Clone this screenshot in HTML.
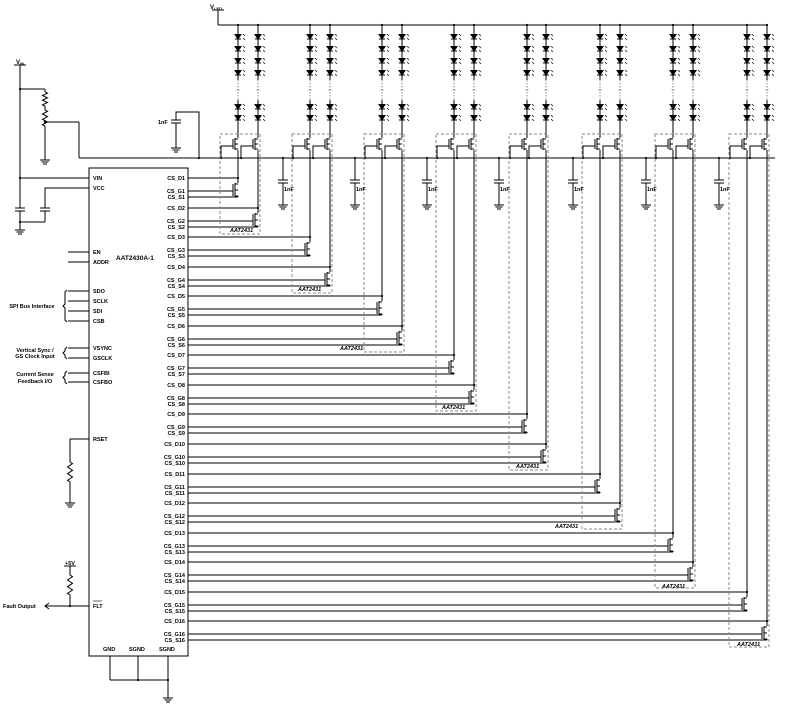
<!DOCTYPE html>
<html><head><meta charset="utf-8"><style>
html,body{margin:0;padding:0;background:#fff;}
svg{display:block}
text{font-family:"Liberation Sans",sans-serif;font-weight:bold;font-size:5.5px;fill:#000}
.r{text-anchor:end}
.m{text-anchor:middle}
.it{font-style:italic}
</style></head><body>
<svg id="s" width="786" height="710" viewBox="0 0 786 710" xmlns="http://www.w3.org/2000/svg">
<g id="g" stroke="#000" stroke-width="1" fill="none"></g>
<rect x="89" y="168" width="99" height="488" fill="none" stroke="#000" stroke-width="1"/>
<text x="116" y="260" style="font-size:6.5px">AAT2430A-1</text>
<text x="93" y="180">VIN</text>
<text x="93" y="190">VCC</text>
<text x="93" y="254">EN</text>
<text x="93" y="264">ADDR</text>
<text x="93" y="293">SDO</text>
<text x="93" y="303">SCLK</text>
<text x="93" y="313">SDI</text>
<text x="93" y="323">CSB</text>
<text x="93" y="350">VSYNC</text>
<text x="93" y="360">GSCLK</text>
<text x="93" y="375">CSFBI</text>
<text x="93" y="384">CSFBO</text>
<text x="93" y="441">RSET</text>
<text x="93" y="608">FLT</text>
<line x1="93" y1="601" x2="102" y2="601" stroke="#000" stroke-width="0.6"/>
<text x="103" y="651">GND</text>
<text x="129" y="651">SGND</text>
<text x="159" y="651">SGND</text>
<text x="32" y="308" class="m">SPI Bus Interface</text>
<text x="35" y="352" class="m">Vertical Sync /</text>
<text x="35" y="358" class="m">GS Clock Input</text>
<text x="35" y="376" class="m">Current Sense</text>
<text x="35" y="383" class="m">Feedback I/O</text>
<text x="3" y="608">Fault Output</text>
<text x="65" y="565">+5V</text>
<text x="16" y="64" style="font-size:6px">V<tspan style="font-size:4px" dy="1">IN</tspan></text>
<text x="210" y="9" style="font-size:6px">V<tspan style="font-size:4px" dy="1">LED</tspan></text>
<text x="158" y="124">1nF</text>
<text x="284" y="191">1nF</text><text x="356" y="191">1nF</text><text x="428" y="191">1nF</text><text x="500" y="191">1nF</text><text x="574" y="191">1nF</text><text x="647" y="191">1nF</text><text x="720" y="191">1nF</text>
<text x="230" y="232" class="it">AAT2431</text>
<text x="298" y="291" class="it">AAT2431</text>
<text x="340" y="350" class="it">AAT2431</text>
<text x="442" y="409" class="it">AAT2431</text>
<text x="516" y="468" class="it">AAT2431</text>
<text x="555" y="528" class="it">AAT2431</text>
<text x="662" y="588" class="it">AAT2431</text>
<text x="737" y="646" class="it">AAT2431</text>
<g>
<text x="185" y="180" class="r">CS_D1</text><text x="185" y="193" class="r">CS_G1</text><text x="185" y="199" class="r">CS_S1</text>
<text x="185" y="210" class="r">CS_D2</text><text x="185" y="223" class="r">CS_G2</text><text x="185" y="229" class="r">CS_S2</text>
<text x="185" y="239" class="r">CS_D3</text><text x="185" y="252" class="r">CS_G3</text><text x="185" y="258" class="r">CS_S3</text>
<text x="185" y="269" class="r">CS_D4</text><text x="185" y="282" class="r">CS_G4</text><text x="185" y="288" class="r">CS_S4</text>
<text x="185" y="298" class="r">CS_D5</text><text x="185" y="311" class="r">CS_G5</text><text x="185" y="317" class="r">CS_S5</text>
<text x="185" y="328" class="r">CS_D6</text><text x="185" y="341" class="r">CS_G6</text><text x="185" y="347" class="r">CS_S6</text>
<text x="185" y="357" class="r">CS_D7</text><text x="185" y="370" class="r">CS_G7</text><text x="185" y="376" class="r">CS_S7</text>
<text x="185" y="387" class="r">CS_D8</text><text x="185" y="400" class="r">CS_G8</text><text x="185" y="406" class="r">CS_S8</text>
<text x="185" y="416" class="r">CS_D9</text><text x="185" y="429" class="r">CS_G9</text><text x="185" y="435" class="r">CS_S9</text>
<text x="185" y="446" class="r">CS_D10</text><text x="185" y="459" class="r">CS_G10</text><text x="185" y="465" class="r">CS_S10</text>
<text x="185" y="476" class="r">CS_D11</text><text x="185" y="489" class="r">CS_G11</text><text x="185" y="495" class="r">CS_S11</text>
<text x="185" y="505" class="r">CS_D12</text><text x="185" y="518" class="r">CS_G12</text><text x="185" y="524" class="r">CS_S12</text>
<text x="185" y="535" class="r">CS_D13</text><text x="185" y="548" class="r">CS_G13</text><text x="185" y="554" class="r">CS_S13</text>
<text x="185" y="564" class="r">CS_D14</text><text x="185" y="577" class="r">CS_G14</text><text x="185" y="583" class="r">CS_S14</text>
<text x="185" y="594" class="r">CS_D15</text><text x="185" y="607" class="r">CS_G15</text><text x="185" y="613" class="r">CS_S15</text>
<text x="185" y="623" class="r">CS_D16</text><text x="185" y="636" class="r">CS_G16</text><text x="185" y="642" class="r">CS_S16</text>
</g>
</svg>
<script>
var g=document.getElementById('g'),NS='http://www.w3.org/2000/svg';
function el(t,a){var e=document.createElementNS(NS,t);for(var k in a)e.setAttribute(k,a[k]);g.appendChild(e);return e;}
function L(x1,y1,x2,y2,st){var e=el('line',{x1:x1,y1:y1,x2:x2,y2:y2});if(st)e.setAttribute('style',st);return e;}
function P(pts,st){var e=el('polyline',{points:pts});if(st)e.setAttribute('style',st);}
function dot(x,y){el('circle',{cx:x,cy:y,r:1.1,fill:'#000',stroke:'none'});}
function gnd(x,y){L(x-5,y,x+5,y);L(x-3.5,y+2,x+3.5,y+2);L(x-2,y+4,x+2,y+4);}
function cap(x,y){L(x-5,y,x+5,y);L(x-5,y+3,x+5,y+3);}
function res(x,y1,y2){var n=6,h=(y2-y1)/n,p=x+','+y1;for(var i=0;i<n;i++)p+=' '+(x+(i%2?-2.5:2.5))+','+(y1+h*(i+.5));p+=' '+x+','+y2;P(p);}
function diode(x,y){el('polygon',{points:(x-3)+','+(y-2.5)+' '+(x+3)+','+(y-2.5)+' '+x+','+(y+2),fill:'#000'});L(x-3,y+2,x+3,y+2);
 L(x+5,y-3,x+7,y-1,'stroke-width:0.6');L(x+5,y+1,x+7,y+3,'stroke-width:0.6');}
function fet(x,y1,y2){
 L(x-3,y1,x-3,y2);L(x-5,y1+1,x-5,y2-1);L(x-3,y1+1,x,y1+1);L(x-3,y2-1,x,y2-1);L(x-3,(y1+y2)/2,x,(y1+y2)/2);}
var D=[];for(var k=0;k<16;k++)D.push(Math.round(178+k*29.55));
var xs=[[238,258],[310,330],[382,402],[454,474],[527,546],[600,620],[673,693],[747,767]];
var caps=[283,355,427,499,573,646,719];
L(218,10,218,25);L(212,10,224,10);L(218,25,767,25);
L(79,122,79,158);L(79,158,775,158);
xs.forEach(function(p,b){
 p.forEach(function(x,j){
  dot(x,25);L(x,25,x,80);[37,49,61,73].forEach(function(y){diode(x,y)});
  L(x,80,x,100,'stroke-dasharray:1.5,1.5;stroke:#888');L(x-1.5,90,x+1.5,90,'stroke:#888');
  L(x,100,x,138);[107,118].forEach(function(y){diode(x,y)});
  fet(x,138,150);P((x-5)+',146 '+(x-17)+',146 '+(x-17)+',158');dot(x-17,158);
  var ch=b*2+j, d=D[ch];
  L(x,150,x,d+5);L(188,d,x,d);dot(x,d);
  fet(x,d+5,d+19);L(188,d+13,x-5,d+13);L(188,d+19,x,d+19);L(x,d+18,x,d+19);
 });
 var bot=D[b*2+1]+26;
 el('rect',{x:p[0]-18,y:134,width:p[1]-p[0]+20,height:bot-134,style:'stroke:#888;stroke-dasharray:3,2'});
});
caps.forEach(function(x){dot(x,158);L(x,158,x,180);cap(x,180);L(x,183,x,205);gnd(x,205);});
P('199,158 199,112 176,112 176,120');dot(199,158);cap(176,120);L(176,123,176,148);gnd(176,148);
L(14,65,26,65);L(20,65,20,208);L(20,89,45,89);res(45,92,106);L(45,89,45,92);L(45,106,45,110);dot(45,122);res(45,110,126);
L(45,126,45,160);gnd(45,160);L(45,122,79,122);dot(20,89);
L(20,178,89,178);dot(20,178);P('89,188 45,188 45,208');cap(20,208);cap(45,208);
L(20,211,20,222);L(45,211,45,222);L(20,222,45,222);dot(20,222);L(20,222,20,230);gnd(20,230);
[252,262,291,301,311,321,348,358,373,382].forEach(function(y){L(68,y,89,y);});
function brace(x,y1,y2){P((x+2)+','+y1+' '+x+','+(y1+2)+' '+x+','+((y1+y2)/2-2)+' '+(x-2)+','+((y1+y2)/2)+' '+x+','+((y1+y2)/2+2)+' '+x+','+(y2-2)+' '+(x+2)+','+y2);}
brace(65,290,322);brace(65,347,359);brace(65,371,384);
P('89,439 70,439 70,462');res(70,462,482);L(70,482,70,503);gnd(70,503);
L(89,606,45,606);dot(70,606);L(64,566,76,566);L(70,566,70,575);res(70,575,595);L(70,595,70,606);
P('49,603 45,606 49,609');
L(110,656,110,680);L(138,656,138,680);L(168,656,168,680);L(110,680,168,680);dot(138,680);dot(168,680);L(168,680,168,698);gnd(168,698);
</script>
</body></html>
